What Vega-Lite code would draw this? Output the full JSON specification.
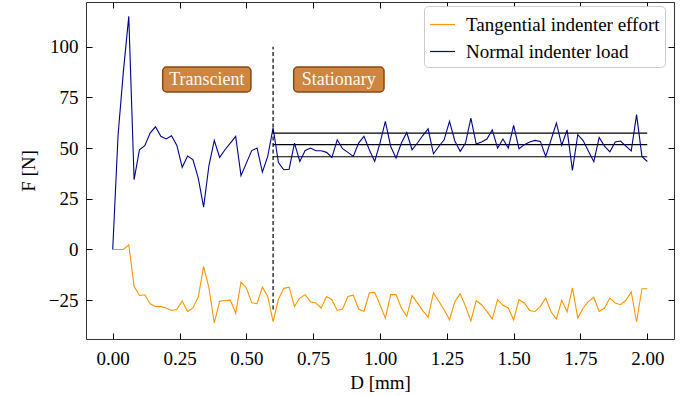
{
  "$schema": "https://vega.github.io/schema/vega-lite/v6.json",
  "autosize": "none",
  "width": 588,
  "height": 337,
  "padding": {"left": 86, "top": 2, "right": 20, "bottom": 57},
  "background": "white",
  "config": {
    "view": {"stroke": "#333", "strokeWidth": 1},
    "axis": {
      "labelFont": "Liberation Serif", "labelFontSize": 19, "labelColor": "#000",
      "titleFont": "Liberation Serif", "titleFontSize": 19, "titleFontWeight": "normal", "titleColor": "#000",
      "grid": false, "domain": false, "tickSize": -6, "tickColor": "#000", "tickWidth": 1
    },
    "legend": {
      "labelFont": "Liberation Serif", "labelFontSize": 19, "labelColor": "#000", "labelLimit": 400
    }
  },
  "datasets": {
    "lines": [
      {"D":0,"F":0,"s":"Normal indenter load"},{"D":0.02,"F":56.5,"s":"Normal indenter load"},{"D":0.04,"F":88,"s":"Normal indenter load"},{"D":0.06,"F":115,"s":"Normal indenter load"},{"D":0.08,"F":34.4,"s":"Normal indenter load"},{"D":0.10,"F":49.2,"s":"Normal indenter load"},{"D":0.12,"F":51.2,"s":"Normal indenter load"},{"D":0.14,"F":57.4,"s":"Normal indenter load"},{"D":0.16,"F":60.5,"s":"Normal indenter load"},{"D":0.18,"F":55.8,"s":"Normal indenter load"},{"D":0.20,"F":54.5,"s":"Normal indenter load"},{"D":0.22,"F":56.1,"s":"Normal indenter load"},{"D":0.24,"F":51.3,"s":"Normal indenter load"},{"D":0.26,"F":40.5,"s":"Normal indenter load"},{"D":0.28,"F":46.1,"s":"Normal indenter load"},{"D":0.30,"F":44.3,"s":"Normal indenter load"},{"D":0.32,"F":35.2,"s":"Normal indenter load"},{"D":0.34,"F":20.9,"s":"Normal indenter load"},{"D":0.36,"F":41.4,"s":"Normal indenter load"},{"D":0.38,"F":53.8,"s":"Normal indenter load"},{"D":0.40,"F":45.4,"s":"Normal indenter load"},{"D":0.42,"F":49.2,"s":"Normal indenter load"},{"D":0.44,"F":52.5,"s":"Normal indenter load"},{"D":0.46,"F":55.8,"s":"Normal indenter load"},{"D":0.48,"F":36.4,"s":"Normal indenter load"},{"D":0.50,"F":42.6,"s":"Normal indenter load"},{"D":0.52,"F":48.8,"s":"Normal indenter load"},{"D":0.54,"F":50,"s":"Normal indenter load"},{"D":0.56,"F":38.2,"s":"Normal indenter load"},{"D":0.58,"F":45.9,"s":"Normal indenter load"},{"D":0.60,"F":60,"s":"Normal indenter load"},{"D":0.62,"F":42.9,"s":"Normal indenter load"},{"D":0.64,"F":39.3,"s":"Normal indenter load"},{"D":0.66,"F":39.6,"s":"Normal indenter load"},{"D":0.68,"F":52.5,"s":"Normal indenter load"},{"D":0.70,"F":43.4,"s":"Normal indenter load"},{"D":0.72,"F":48.8,"s":"Normal indenter load"},{"D":0.74,"F":50,"s":"Normal indenter load"},{"D":0.76,"F":48.7,"s":"Normal indenter load"},{"D":0.78,"F":48.7,"s":"Normal indenter load"},{"D":0.80,"F":47.9,"s":"Normal indenter load"},{"D":0.82,"F":45.4,"s":"Normal indenter load"},{"D":0.84,"F":54.1,"s":"Normal indenter load"},{"D":0.86,"F":49.7,"s":"Normal indenter load"},{"D":0.88,"F":47.9,"s":"Normal indenter load"},{"D":0.90,"F":45.9,"s":"Normal indenter load"},{"D":0.92,"F":52.5,"s":"Normal indenter load"},{"D":0.94,"F":55.8,"s":"Normal indenter load"},{"D":0.96,"F":49.2,"s":"Normal indenter load"},{"D":0.98,"F":43.4,"s":"Normal indenter load"},{"D":1.00,"F":52.5,"s":"Normal indenter load"},{"D":1.02,"F":63.2,"s":"Normal indenter load"},{"D":1.04,"F":50.8,"s":"Normal indenter load"},{"D":1.06,"F":45.1,"s":"Normal indenter load"},{"D":1.08,"F":52.5,"s":"Normal indenter load"},{"D":1.10,"F":57.7,"s":"Normal indenter load"},{"D":1.12,"F":49.2,"s":"Normal indenter load"},{"D":1.14,"F":52.5,"s":"Normal indenter load"},{"D":1.16,"F":56.2,"s":"Normal indenter load"},{"D":1.18,"F":59.5,"s":"Normal indenter load"},{"D":1.20,"F":47.2,"s":"Normal indenter load"},{"D":1.22,"F":50.8,"s":"Normal indenter load"},{"D":1.24,"F":54.1,"s":"Normal indenter load"},{"D":1.26,"F":63.2,"s":"Normal indenter load"},{"D":1.28,"F":53.5,"s":"Normal indenter load"},{"D":1.30,"F":48.4,"s":"Normal indenter load"},{"D":1.32,"F":52.5,"s":"Normal indenter load"},{"D":1.34,"F":64.8,"s":"Normal indenter load"},{"D":1.36,"F":52,"s":"Normal indenter load"},{"D":1.38,"F":53,"s":"Normal indenter load"},{"D":1.40,"F":54.5,"s":"Normal indenter load"},{"D":1.42,"F":59,"s":"Normal indenter load"},{"D":1.44,"F":50,"s":"Normal indenter load"},{"D":1.46,"F":54.5,"s":"Normal indenter load"},{"D":1.48,"F":50,"s":"Normal indenter load"},{"D":1.50,"F":61.2,"s":"Normal indenter load"},{"D":1.52,"F":49.7,"s":"Normal indenter load"},{"D":1.54,"F":51.7,"s":"Normal indenter load"},{"D":1.56,"F":53,"s":"Normal indenter load"},{"D":1.58,"F":53.8,"s":"Normal indenter load"},{"D":1.60,"F":53.3,"s":"Normal indenter load"},{"D":1.62,"F":45.9,"s":"Normal indenter load"},{"D":1.64,"F":54.1,"s":"Normal indenter load"},{"D":1.66,"F":62.4,"s":"Normal indenter load"},{"D":1.68,"F":51.4,"s":"Normal indenter load"},{"D":1.70,"F":59,"s":"Normal indenter load"},{"D":1.72,"F":39,"s":"Normal indenter load"},{"D":1.74,"F":56.6,"s":"Normal indenter load"},{"D":1.76,"F":53.7,"s":"Normal indenter load"},{"D":1.78,"F":48.4,"s":"Normal indenter load"},{"D":1.80,"F":43.3,"s":"Normal indenter load"},{"D":1.82,"F":55.3,"s":"Normal indenter load"},{"D":1.84,"F":51,"s":"Normal indenter load"},{"D":1.86,"F":48.2,"s":"Normal indenter load"},{"D":1.88,"F":53,"s":"Normal indenter load"},{"D":1.90,"F":53.5,"s":"Normal indenter load"},{"D":1.92,"F":51,"s":"Normal indenter load"},{"D":1.94,"F":48.6,"s":"Normal indenter load"},{"D":1.96,"F":66.5,"s":"Normal indenter load"},{"D":1.98,"F":45.9,"s":"Normal indenter load"},{"D":2.00,"F":43.4,"s":"Normal indenter load"},
      {"D":0,"F":0,"s":"Tangential indenter effort"},{"D":0.02,"F":0,"s":"Tangential indenter effort"},{"D":0.04,"F":0,"s":"Tangential indenter effort"},{"D":0.06,"F":2.3,"s":"Tangential indenter effort"},{"D":0.08,"F":-18.2,"s":"Tangential indenter effort"},{"D":0.10,"F":-22.7,"s":"Tangential indenter effort"},{"D":0.12,"F":-22.4,"s":"Tangential indenter effort"},{"D":0.14,"F":-26.8,"s":"Tangential indenter effort"},{"D":0.16,"F":-28.1,"s":"Tangential indenter effort"},{"D":0.18,"F":-28.1,"s":"Tangential indenter effort"},{"D":0.20,"F":-28.9,"s":"Tangential indenter effort"},{"D":0.22,"F":-30.1,"s":"Tangential indenter effort"},{"D":0.24,"F":-29.5,"s":"Tangential indenter effort"},{"D":0.26,"F":-25.5,"s":"Tangential indenter effort"},{"D":0.28,"F":-30.6,"s":"Tangential indenter effort"},{"D":0.30,"F":-28.9,"s":"Tangential indenter effort"},{"D":0.32,"F":-23.5,"s":"Tangential indenter effort"},{"D":0.34,"F":-8.4,"s":"Tangential indenter effort"},{"D":0.36,"F":-19,"s":"Tangential indenter effort"},{"D":0.38,"F":-36.3,"s":"Tangential indenter effort"},{"D":0.40,"F":-25.6,"s":"Tangential indenter effort"},{"D":0.42,"F":-25.2,"s":"Tangential indenter effort"},{"D":0.44,"F":-25,"s":"Tangential indenter effort"},{"D":0.46,"F":-31.4,"s":"Tangential indenter effort"},{"D":0.48,"F":-16.1,"s":"Tangential indenter effort"},{"D":0.50,"F":-19,"s":"Tangential indenter effort"},{"D":0.52,"F":-26.3,"s":"Tangential indenter effort"},{"D":0.54,"F":-26.8,"s":"Tangential indenter effort"},{"D":0.56,"F":-18.6,"s":"Tangential indenter effort"},{"D":0.58,"F":-23.2,"s":"Tangential indenter effort"},{"D":0.60,"F":-35.6,"s":"Tangential indenter effort"},{"D":0.62,"F":-24.6,"s":"Tangential indenter effort"},{"D":0.64,"F":-19.2,"s":"Tangential indenter effort"},{"D":0.66,"F":-18.6,"s":"Tangential indenter effort"},{"D":0.68,"F":-28.1,"s":"Tangential indenter effort"},{"D":0.70,"F":-24,"s":"Tangential indenter effort"},{"D":0.72,"F":-22.3,"s":"Tangential indenter effort"},{"D":0.74,"F":-25.8,"s":"Tangential indenter effort"},{"D":0.76,"F":-26.4,"s":"Tangential indenter effort"},{"D":0.78,"F":-28.9,"s":"Tangential indenter effort"},{"D":0.80,"F":-23.2,"s":"Tangential indenter effort"},{"D":0.82,"F":-24.8,"s":"Tangential indenter effort"},{"D":0.84,"F":-30.1,"s":"Tangential indenter effort"},{"D":0.86,"F":-29.4,"s":"Tangential indenter effort"},{"D":0.88,"F":-23.2,"s":"Tangential indenter effort"},{"D":0.90,"F":-22.6,"s":"Tangential indenter effort"},{"D":0.92,"F":-29.4,"s":"Tangential indenter effort"},{"D":0.94,"F":-30.6,"s":"Tangential indenter effort"},{"D":0.96,"F":-21.5,"s":"Tangential indenter effort"},{"D":0.98,"F":-21.2,"s":"Tangential indenter effort"},{"D":1.00,"F":-27.3,"s":"Tangential indenter effort"},{"D":1.02,"F":-33.9,"s":"Tangential indenter effort"},{"D":1.04,"F":-22.3,"s":"Tangential indenter effort"},{"D":1.06,"F":-22.3,"s":"Tangential indenter effort"},{"D":1.08,"F":-28.9,"s":"Tangential indenter effort"},{"D":1.10,"F":-33,"s":"Tangential indenter effort"},{"D":1.12,"F":-22.8,"s":"Tangential indenter effort"},{"D":1.14,"F":-26.4,"s":"Tangential indenter effort"},{"D":1.16,"F":-30.2,"s":"Tangential indenter effort"},{"D":1.18,"F":-33.5,"s":"Tangential indenter effort"},{"D":1.20,"F":-21.5,"s":"Tangential indenter effort"},{"D":1.22,"F":-25.6,"s":"Tangential indenter effort"},{"D":1.24,"F":-29.8,"s":"Tangential indenter effort"},{"D":1.26,"F":-34.7,"s":"Tangential indenter effort"},{"D":1.28,"F":-25.8,"s":"Tangential indenter effort"},{"D":1.30,"F":-21.8,"s":"Tangential indenter effort"},{"D":1.32,"F":-28.1,"s":"Tangential indenter effort"},{"D":1.34,"F":-35.3,"s":"Tangential indenter effort"},{"D":1.36,"F":-25.3,"s":"Tangential indenter effort"},{"D":1.38,"F":-27.3,"s":"Tangential indenter effort"},{"D":1.40,"F":-30.6,"s":"Tangential indenter effort"},{"D":1.42,"F":-34.3,"s":"Tangential indenter effort"},{"D":1.44,"F":-24.8,"s":"Tangential indenter effort"},{"D":1.46,"F":-27.6,"s":"Tangential indenter effort"},{"D":1.48,"F":-28.9,"s":"Tangential indenter effort"},{"D":1.50,"F":-34.7,"s":"Tangential indenter effort"},{"D":1.52,"F":-24.8,"s":"Tangential indenter effort"},{"D":1.54,"F":-26.4,"s":"Tangential indenter effort"},{"D":1.56,"F":-30.1,"s":"Tangential indenter effort"},{"D":1.58,"F":-30.6,"s":"Tangential indenter effort"},{"D":1.60,"F":-28.1,"s":"Tangential indenter effort"},{"D":1.62,"F":-24,"s":"Tangential indenter effort"},{"D":1.64,"F":-30.8,"s":"Tangential indenter effort"},{"D":1.66,"F":-34.3,"s":"Tangential indenter effort"},{"D":1.68,"F":-25.1,"s":"Tangential indenter effort"},{"D":1.70,"F":-30.8,"s":"Tangential indenter effort"},{"D":1.72,"F":-19,"s":"Tangential indenter effort"},{"D":1.74,"F":-33.9,"s":"Tangential indenter effort"},{"D":1.76,"F":-28.9,"s":"Tangential indenter effort"},{"D":1.78,"F":-25.6,"s":"Tangential indenter effort"},{"D":1.80,"F":-23.7,"s":"Tangential indenter effort"},{"D":1.82,"F":-30.6,"s":"Tangential indenter effort"},{"D":1.84,"F":-28.9,"s":"Tangential indenter effort"},{"D":1.86,"F":-24,"s":"Tangential indenter effort"},{"D":1.88,"F":-26.4,"s":"Tangential indenter effort"},{"D":1.90,"F":-27.3,"s":"Tangential indenter effort"},{"D":1.92,"F":-25.1,"s":"Tangential indenter effort"},{"D":1.94,"F":-21,"s":"Tangential indenter effort"},{"D":1.96,"F":-35.8,"s":"Tangential indenter effort"},{"D":1.98,"F":-19.4,"s":"Tangential indenter effort"},{"D":2.00,"F":-19.4,"s":"Tangential indenter effort"}
    ],
    "hlines": [
      {"x0": 0.6, "x1": 2.0, "F": 57.4},
      {"x0": 0.6, "x1": 2.0, "F": 51.7},
      {"x0": 0.6, "x1": 2.0, "F": 45.7}
    ],
    "vline": [{"D": 0.6, "y0": -29.7, "y1": 100}],
    "boxes": [
      {"label": "Transcient", "x0": 0.187, "x1": 0.517, "y0": 77.7, "y1": 90, "xc": 0.352, "yc": 83.8},
      {"label": "Stationary", "x0": 0.677, "x1": 1.015, "y0": 77.7, "y1": 90, "xc": 0.846, "yc": 83.8}
    ]
  },
  "layer": [
    {
      "data": {"name": "hlines"},
      "mark": {"type": "rule", "color": "#000", "strokeWidth": 1.1},
      "encoding": {
        "x": {"field": "x0", "type": "quantitative", "scale": {"domain": [-0.1, 2.1], "nice": false, "zero": false},
              "axis": {"orient": "top", "labels": false, "title": null, "values": [0, 0.25, 0.5, 0.75, 1, 1.25, 1.5, 1.75, 2]}},
        "x2": {"field": "x1"},
        "y": {"field": "F", "type": "quantitative", "scale": {"domain": [-44.2, 122.1], "nice": false, "zero": false},
              "axis": {"orient": "right", "labels": false, "title": null, "values": [-25, 0, 25, 50, 75, 100]}}
      }
    },
    {
      "data": {"name": "lines"},
      "mark": {"type": "line", "strokeWidth": 1.1},
      "encoding": {
        "x": {"field": "D", "type": "quantitative",
              "axis": {"title": "D [mm]", "values": [0, 0.25, 0.5, 0.75, 1, 1.25, 1.5, 1.75, 2], "format": ".2f", "labelPadding": 16, "titlePadding": 5}},
        "y": {"field": "F", "type": "quantitative",
              "axis": {"title": "F [N]", "values": [-25, 0, 25, 50, 75, 100], "labelPadding": 14, "titlePadding": 10}},
        "color": {"field": "s", "type": "nominal",
                  "scale": {"domain": ["Tangential indenter effort", "Normal indenter load"], "range": ["#ff9500", "#00008b"]},
                  "legend": {"title": null, "orient": "none", "legendX": 338, "legendY": 4, "symbolType": "stroke", "symbolSize": 625, "symbolStrokeWidth": 1.2, "labelOffset": 10, "rowPadding": 3, "padding": 5, "strokeColor": "#cccccc", "fillColor": "white", "cornerRadius": 4}},
        "detail": {"field": "s"}
      }
    },
    {
      "data": {"name": "vline"},
      "mark": {"type": "rule", "color": "#000", "strokeWidth": 1.2, "strokeDash": [4, 2.5]},
      "encoding": {
        "x": {"field": "D", "type": "quantitative", "axis": null},
        "y": {"field": "y0", "type": "quantitative", "axis": null},
        "y2": {"field": "y1"}
      }
    },
    {
      "data": {"name": "boxes"},
      "mark": {"type": "rect", "fill": "#cd853f", "stroke": "#8b4513", "strokeWidth": 1.5, "cornerRadius": 4},
      "encoding": {
        "x": {"field": "x0", "type": "quantitative", "axis": null},
        "x2": {"field": "x1"},
        "y": {"field": "y0", "type": "quantitative", "axis": null},
        "y2": {"field": "y1"}
      }
    },
    {
      "data": {"name": "boxes"},
      "mark": {"type": "text", "font": "Liberation Serif", "fontSize": 18, "color": "#fff8ee", "align": "center", "baseline": "middle"},
      "encoding": {
        "x": {"field": "xc", "type": "quantitative", "axis": null},
        "y": {"field": "yc", "type": "quantitative", "axis": null},
        "text": {"field": "label"}
      }
    }
  ],
  "resolve": {"axis": {"x": "independent", "y": "independent"}}
}
